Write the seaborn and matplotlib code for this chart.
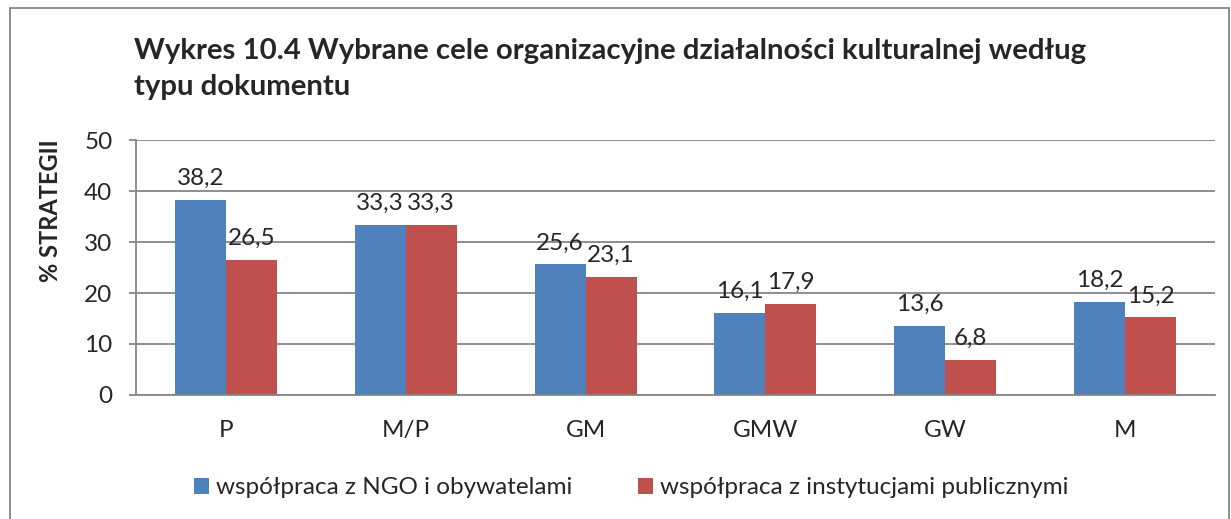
import numpy as np
import pandas as pd
import seaborn as sns
import matplotlib.pyplot as plt
from matplotlib.patches import Rectangle

# dane z wykresu
categories = ['P', 'M/P', 'GM', 'GMW', 'GW', 'M']
ngo = [38.2, 33.3, 25.6, 16.1, 13.6, 18.2]
publiczne = [26.5, 33.3, 23.1, 17.9, 6.8, 15.2]
series = ['współpraca z NGO i obywatelami', 'współpraca z instytucjami publicznymi']

df = pd.DataFrame({
    'kategoria': categories * 2,
    'wartosc': ngo + publiczne,
    'seria': [series[0]] * len(categories) + [series[1]] * len(categories),
})

sns.set_style('white')
plt.rcParams['font.family'] = ['Lato', 'DejaVu Sans']

fs = 17.5
grey = '#868686'

fig = plt.figure(figsize=(12.31, 5.19), dpi=100)
ax = fig.add_axes([0.1105, 0.239, 0.8765, 0.491])

sns.barplot(data=df, x='kategoria', y='wartosc', hue='seria',
            palette=['#4F81BD', '#C0504D'], width=0.567, gap=0,
            saturation=1, linewidth=0, ax=ax)

for cont in ax.containers:
    ax.bar_label(cont, labels=[f'{v:.1f}'.replace('.', ',') for v in cont.datavalues],
                 padding=8, fontsize=fs)

ax.set_ylim(0, 50)
ax.set_xlim(-0.5, 5.5)
ax.set_yticks(range(0, 51, 10))
ax.yaxis.grid(True, color=grey, linewidth=1.3)
ax.set_axisbelow(True)
ax.set_xticks(np.arange(-0.5, 6, 1), minor=True)
ax.tick_params(axis='x', which='major', length=0, labelsize=fs, pad=18)
ax.tick_params(axis='x', which='minor', length=5, color=grey, width=1.3)
ax.tick_params(axis='y', length=5, color=grey, width=1.3, labelsize=fs, left=True, pad=12)
for s in ['top', 'right']:
    ax.spines[s].set_visible(False)
for s in ['left', 'bottom']:
    ax.spines[s].set_color(grey)
    ax.spines[s].set_linewidth(1.3)
ax.set_xlabel('')
ax.set_ylabel('% STRATEGII', fontsize=17, fontweight='bold')
ax.yaxis.set_label_coords(-0.069, 0.725)

ax.legend(loc='center', bbox_to_anchor=(0.459, -0.365), ncol=2, frameon=False,
          fontsize=fs, handlelength=0.62, handleheight=0.62, handletextpad=0.3,
          columnspacing=2.7)

# ostatnia linia tytułu wyrównana do linii bazowej
fig.text(0.109, 1 - 95 / 519, 'Wykres 10.4 Wybrane cele organizacyjne działalności kulturalnej według\ntypu dokumentu',
         fontsize=21.2, fontweight='bold', ha='left', va='baseline', linespacing=1.5)

fig.patches.append(Rectangle((0.008, -0.02), 0.99, 1.005, transform=fig.transFigure,
                             fill=False, edgecolor=grey, linewidth=1.3))

fig.savefig('out.png', dpi=100)
